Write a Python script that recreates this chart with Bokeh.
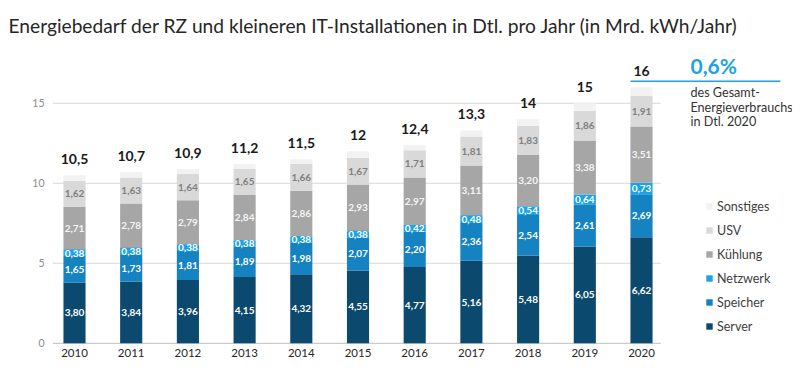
from bokeh.plotting import figure
from bokeh.models import ColumnDataSource, LabelSet, Legend, LegendItem, Range1d, FixedTicker, Label
from bokeh.core.properties import value
from bokeh.embed import file_html
from bokeh.resources import INLINE

years = [2010, 2011, 2012, 2013, 2014, 2015, 2016, 2017, 2018, 2019, 2020]
server = [3.80, 3.84, 3.96, 4.15, 4.32, 4.55, 4.77, 5.16, 5.48, 6.05, 6.62]
speicher = [1.65, 1.73, 1.81, 1.89, 1.98, 2.07, 2.20, 2.36, 2.54, 2.61, 2.69]
netzwerk = [0.38, 0.38, 0.38, 0.38, 0.38, 0.38, 0.42, 0.48, 0.54, 0.64, 0.73]
kuehlung = [2.71, 2.78, 2.79, 2.84, 2.86, 2.93, 2.97, 3.11, 3.20, 3.38, 3.51]
usv = [1.62, 1.63, 1.64, 1.65, 1.66, 1.67, 1.71, 1.81, 1.83, 1.86, 1.91]
sonstiges = [0.34, 0.34, 0.32, 0.29, 0.30, 0.40, 0.33, 0.38, 0.41, 0.46, 0.54]
totals = [10.5, 10.7, 10.9, 11.2, 11.5, 12, 12.4, 13.3, 14, 15, 16]
y_ticks = [0, 5, 10, 15]

series_names = ["Server", "Speicher", "Netzwerk", "Kühlung", "USV", "Sonstiges"]
series_vals = [server, speicher, netzwerk, kuehlung, usv, sonstiges]
colors = ["#0b4a6e", "#1582c1", "#1ba3e3", "#a6a6a6", "#d9d9d9", "#f2f2f2"]
label_colors = ["white", "white", "white", "#f4f4f4", "#7f7f7f", None]

FONT = "Lato"

def de(v, nd=2):
    s = f"{v:.{nd}f}"
    return s.replace(".", ",")

def de_total(v):
    s = f"{v:g}"
    return s.replace(".", ",")

p = figure(width=792, height=368, output_backend="svg", toolbar_location=None,
           x_range=Range1d(2009.612, 2022.663), y_range=Range1d(-0.2, 18.61),
           min_border_left=52, min_border_right=0, min_border_top=45, min_border_bottom=22)
p.outline_line_color = None
p.background_fill_color = "white"
p.border_fill_color = "white"

p.title.text = "Energiebedarf der RZ und kleineren IT-Installationen in Dtl. pro Jahr (in Mrd. kWh/Jahr)"
p.title.text_font = FONT
p.title.text_font_size = "19.2px"
p.title.text_font_style = "normal"
p.title.text_color = "#262626"
p.title.offset = -44
p.title.standoff = 17

# grid lines drawn only under bars
x_left = 2009.612
x_right = 2020.34
p.segment(x0=[x_left]*len(y_ticks[1:]), x1=[x_right]*len(y_ticks[1:]), y0=y_ticks[1:], y1=y_ticks[1:],
          line_color="#d9d9d9", line_width=1)
p.segment(x0=[x_left], x1=[x_right], y0=[0], y1=[0], line_color="#bfbfbf", line_width=1)

data = {"year": years}
for n, v in zip(series_names, series_vals):
    data[n] = v
src = ColumnDataSource(data)
renderers = p.vbar_stack(series_names, x="year", width=0.39, source=src, color=colors, line_color=None)

p.xgrid.visible = False
p.ygrid.visible = False

p.xaxis.ticker = FixedTicker(ticks=years)
p.yaxis.ticker = FixedTicker(ticks=y_ticks)
for ax in (p.xaxis, p.yaxis):
    ax.axis_line_color = None
    ax.major_tick_line_color = None
    ax.minor_tick_line_color = None
    ax.major_tick_out = 0
    ax.major_tick_in = 0
    ax.major_label_text_font = FONT
p.xaxis.major_label_text_font_size = "11.5px"
p.xaxis.major_label_text_color = "#262626"
p.xaxis.major_label_standoff = 2
p.yaxis.major_label_text_font_size = "10.5px"
p.yaxis.major_label_text_color = "#8c8c8c"
p.yaxis.major_label_standoff = 8

# segment labels
cum = [0.0] * len(years)
for i, (n, v, lc) in enumerate(zip(series_names, series_vals, label_colors)):
    mids = [c + x / 2 for c, x in zip(cum, v)]
    cum = [c + x for c, x in zip(cum, v)]
    if lc is None:
        continue
    s = ColumnDataSource({"x": years, "y": mids, "t": [de(x) for x in v]})
    kw = {}
    if n == "Netzwerk":
        kw = dict(background_fill_color=colors[2], background_fill_alpha=1.0)
    ls = LabelSet(x="x", y="y", text="t", source=s, text_align="center", text_baseline="middle",
                  text_font=value(FONT), text_font_size="10px", text_font_style="bold",
                  text_color=lc, **kw)
    p.add_layout(ls)

# totals
ts = ColumnDataSource({"x": years, "y": cum, "t": [de_total(t) for t in totals]})
p.add_layout(LabelSet(x="x", y="y", text="t", source=ts, y_offset=16, text_align="center",
                      text_baseline="middle", text_font=value(FONT), text_font_size="14px",
                      text_font_style="bold", text_color="#1a1a1a"))

# annotation on the right
top20 = cum[-1]
p.segment(x0=[years[-1] - 0.195], x1=[years[-1] + 2.45], y0=[top20 + 0.375], y1=[top20 + 0.375],
          line_color="#1ba3e3", line_width=1.5)
p.add_layout(Label(x=years[-1] + 0.864, y=top20 + 0.6, text="0,6%", text_font=FONT,
                   text_font_size="21px", text_font_style="bold", text_color="#1ba3e3",
                   text_align="left", text_baseline="bottom"))
for k, line in enumerate(["des Gesamt-", "Energieverbrauchs", "in Dtl. 2020"]):
    p.add_layout(Label(x=years[-1] + 0.864, y=top20 - 0.35 - k * 0.9, text=line, text_font=FONT,
                       text_font_size="12.6px", text_color="#333333",
                       text_align="left", text_baseline="middle"))

items = [LegendItem(label=n, renderers=[r]) for n, r in zip(series_names, renderers)][::-1]
legend = Legend(items=items, location=(653, 10), padding=0, margin=0, border_line_color=None,
                background_fill_alpha=0, glyph_width=8, glyph_height=8, label_height=20, spacing=4,
                label_text_font=FONT, label_text_font_size="12.5px", label_text_color="#404040",
                label_standoff=4)
p.add_layout(legend, "center")

open("out.html", "w").write(file_html(p, INLINE))
